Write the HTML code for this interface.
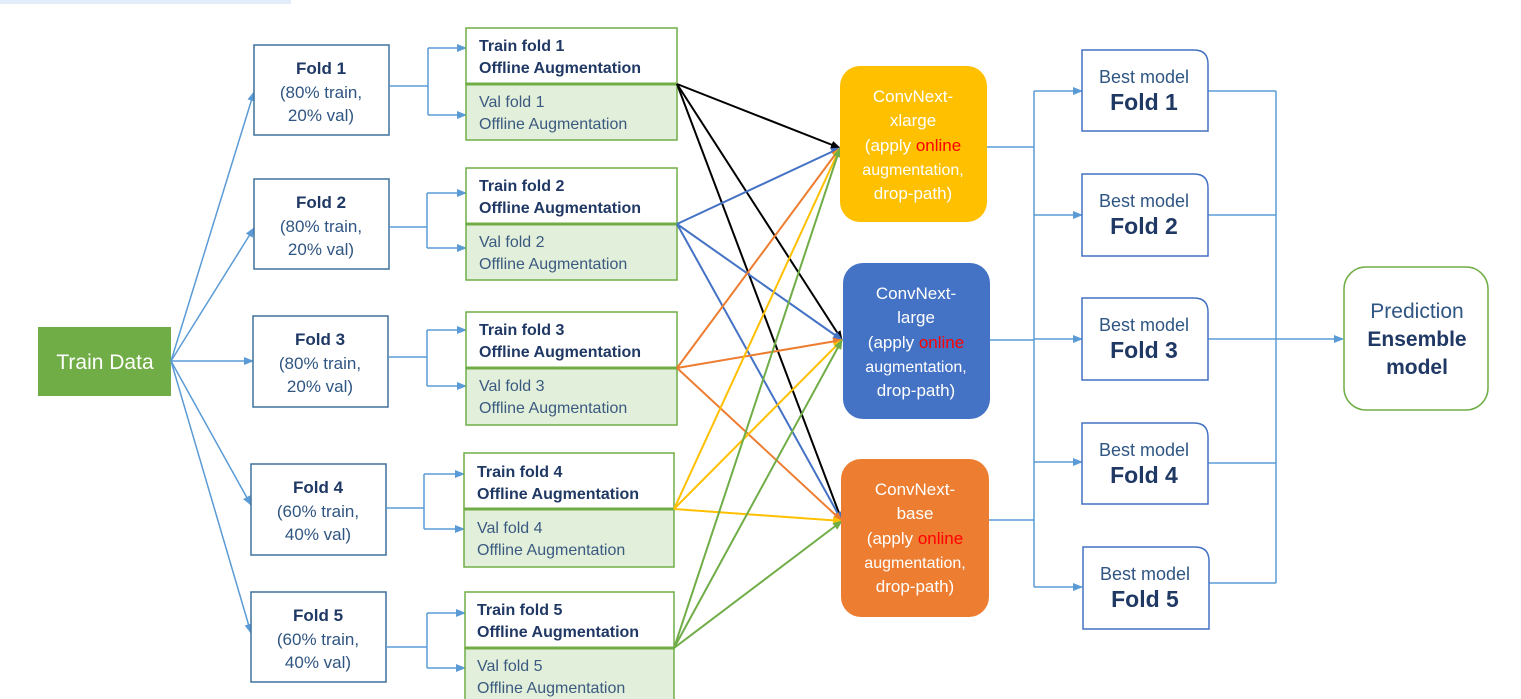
<!DOCTYPE html>
<html><head><meta charset="utf-8"><style>
html,body{margin:0;padding:0;background:#fff;}
svg{display:block;}
text{font-family:"Liberation Sans Narrow","Liberation Sans",sans-serif;}
</style></head><body>
<svg width="1521" height="699" viewBox="0 0 1521 699" xmlns="http://www.w3.org/2000/svg">
<defs>
<marker id="ab" markerWidth="10" markerHeight="10" refX="9" refY="5" orient="auto" markerUnits="userSpaceOnUse"><path d="M0,1 L10,5 L0,9 z" fill="#5b9bd5"/></marker>
<marker id="ak" markerWidth="10" markerHeight="10" refX="9" refY="5" orient="auto" markerUnits="userSpaceOnUse"><path d="M0,1 L10,5 L0,9 z" fill="#000"/></marker>
<marker id="a2" markerWidth="10" markerHeight="10" refX="9" refY="5" orient="auto" markerUnits="userSpaceOnUse"><path d="M0,1 L10,5 L0,9 z" fill="#4472c4"/></marker>
<marker id="a3" markerWidth="10" markerHeight="10" refX="9" refY="5" orient="auto" markerUnits="userSpaceOnUse"><path d="M0,1 L10,5 L0,9 z" fill="#ed7d31"/></marker>
<marker id="a4" markerWidth="10" markerHeight="10" refX="9" refY="5" orient="auto" markerUnits="userSpaceOnUse"><path d="M0,1 L10,5 L0,9 z" fill="#ffc000"/></marker>
<marker id="a5" markerWidth="10" markerHeight="10" refX="9" refY="5" orient="auto" markerUnits="userSpaceOnUse"><path d="M0,1 L10,5 L0,9 z" fill="#70ad47"/></marker>
</defs>
<rect x="0" y="0" width="291" height="4" fill="#e3edf9"/>

<!-- Train data -->
<rect x="38" y="327" width="133" height="69" fill="#70ad47"/>
<text x="105" y="369" fill="#fff" font-size="21" text-anchor="middle">Train Data</text>

<g stroke="#5b9bd5" stroke-width="1.5" fill="none" marker-end="url(#ab)">
<line x1="171" y1="361" x2="254" y2="92"/>
<line x1="171" y1="361" x2="254" y2="228"/>
<line x1="171" y1="361" x2="253" y2="361"/>
<line x1="171" y1="361" x2="251" y2="505"/>
<line x1="171" y1="361" x2="251" y2="633"/>
</g>

<!-- Fold boxes -->
<g stroke="#41719c" stroke-width="1.5" fill="#fff">
<rect x="254" y="45" width="135" height="90"/>
<rect x="254" y="179" width="135" height="90"/>
<rect x="253" y="316" width="135" height="91"/>
<rect x="251" y="464" width="135" height="91"/>
<rect x="251" y="592" width="135" height="90"/>
</g>
<g text-anchor="middle" font-size="17">
<text x="321" y="74" fill="#1f3864" font-weight="bold">Fold 1</text><text x="321" y="98" fill="#2f5582">(80% train,</text><text x="321" y="121" fill="#2f5582">20% val)</text>
<text x="321" y="208" fill="#1f3864" font-weight="bold">Fold 2</text><text x="321" y="232" fill="#2f5582">(80% train,</text><text x="321" y="255" fill="#2f5582">20% val)</text>
<text x="320" y="345" fill="#1f3864" font-weight="bold">Fold 3</text><text x="320" y="369" fill="#2f5582">(80% train,</text><text x="320" y="392" fill="#2f5582">20% val)</text>
<text x="318" y="493" fill="#1f3864" font-weight="bold">Fold 4</text><text x="318" y="517" fill="#2f5582">(60% train,</text><text x="318" y="540" fill="#2f5582">40% val)</text>
<text x="318" y="621" fill="#1f3864" font-weight="bold">Fold 5</text><text x="318" y="645" fill="#2f5582">(60% train,</text><text x="318" y="668" fill="#2f5582">40% val)</text>
</g>

<!-- fold splitters -->
<g stroke="#5b9bd5" stroke-width="1.5" fill="none">
<path d="M389,86 H428 M428,48 V115"/>
<path d="M389,227 H427 M427,193 V248"/>
<path d="M388,357 H427 M427,330 V386"/>
<path d="M386,508 H424 M424,474 V529"/>
<path d="M386,647 H427 M427,613 V668"/>
</g>
<g stroke="#5b9bd5" stroke-width="1.5" marker-end="url(#ab)">
<line x1="428" y1="48" x2="466" y2="48"/><line x1="428" y1="115" x2="466" y2="115"/>
<line x1="427" y1="193" x2="466" y2="193"/><line x1="427" y1="248" x2="466" y2="248"/>
<line x1="427" y1="330" x2="466" y2="330"/><line x1="427" y1="386" x2="466" y2="386"/>
<line x1="424" y1="474" x2="464" y2="474"/><line x1="424" y1="529" x2="464" y2="529"/>
<line x1="427" y1="613" x2="465" y2="613"/><line x1="427" y1="668" x2="465" y2="668"/>
</g>

<!-- train/val boxes -->
<g stroke="#70ad47" stroke-width="1.5">
<rect x="466" y="28" width="211" height="56" fill="#fff"/><rect x="466" y="84" width="211" height="56" fill="#e2efda"/>
<rect x="466" y="168" width="211" height="56" fill="#fff"/><rect x="466" y="224" width="211" height="56" fill="#e2efda"/>
<rect x="466" y="312" width="211" height="56" fill="#fff"/><rect x="466" y="368" width="211" height="57" fill="#e2efda"/>
<rect x="464" y="453" width="210" height="56" fill="#fff"/><rect x="464" y="509" width="210" height="58" fill="#e2efda"/>
<rect x="465" y="592" width="209" height="56" fill="#fff"/><rect x="465" y="648" width="209" height="60" fill="#e2efda"/>
</g>
<g stroke="#70ad47" stroke-width="3">
<line x1="466" y1="84" x2="677" y2="84"/><line x1="466" y1="224" x2="677" y2="224"/>
<line x1="466" y1="368" x2="677" y2="368"/><line x1="464" y1="509" x2="674" y2="509"/>
<line x1="465" y1="648" x2="674" y2="648"/>
</g>
<g font-size="16">
<text x="479" y="51" fill="#203864" font-weight="bold">Train fold 1</text><text x="479" y="73" fill="#203864" font-weight="bold">Offline Augmentation</text>
<text x="479" y="107" fill="#3b5a80">Val fold 1</text><text x="479" y="129" fill="#3b5a80">Offline Augmentation</text>
<text x="479" y="191" fill="#203864" font-weight="bold">Train fold 2</text><text x="479" y="213" fill="#203864" font-weight="bold">Offline Augmentation</text>
<text x="479" y="247" fill="#3b5a80">Val fold 2</text><text x="479" y="269" fill="#3b5a80">Offline Augmentation</text>
<text x="479" y="335" fill="#203864" font-weight="bold">Train fold 3</text><text x="479" y="357" fill="#203864" font-weight="bold">Offline Augmentation</text>
<text x="479" y="391" fill="#3b5a80">Val fold 3</text><text x="479" y="413" fill="#3b5a80">Offline Augmentation</text>
<text x="477" y="477" fill="#203864" font-weight="bold">Train fold 4</text><text x="477" y="499" fill="#203864" font-weight="bold">Offline Augmentation</text>
<text x="477" y="533" fill="#3b5a80">Val fold 4</text><text x="477" y="555" fill="#3b5a80">Offline Augmentation</text>
<text x="477" y="615" fill="#203864" font-weight="bold">Train fold 5</text><text x="477" y="637" fill="#203864" font-weight="bold">Offline Augmentation</text>
<text x="477" y="671" fill="#3b5a80">Val fold 5</text><text x="477" y="693" fill="#3b5a80">Offline Augmentation</text>
</g>

<!-- colored connectors -->
<g stroke-width="2" fill="none">
<g stroke="#000" marker-end="url(#ak)"><line x1="677" y1="84" x2="840" y2="148"/><line x1="677" y1="84" x2="842" y2="340"/><line x1="677" y1="84" x2="842" y2="521"/></g>
<g stroke="#4472c4" marker-end="url(#a2)"><line x1="677" y1="224" x2="840" y2="148"/><line x1="677" y1="224" x2="842" y2="340"/><line x1="677" y1="224" x2="842" y2="521"/></g>
<g stroke="#ed7d31" marker-end="url(#a3)"><line x1="677" y1="368" x2="840" y2="148"/><line x1="677" y1="368" x2="842" y2="340"/><line x1="677" y1="368" x2="842" y2="521"/></g>
<g stroke="#ffc000" marker-end="url(#a4)"><line x1="674" y1="509" x2="840" y2="148"/><line x1="674" y1="509" x2="842" y2="340"/><line x1="674" y1="509" x2="842" y2="521"/></g>
<g stroke="#70ad47" marker-end="url(#a5)"><line x1="674" y1="648" x2="840" y2="148"/><line x1="674" y1="648" x2="842" y2="340"/><line x1="674" y1="648" x2="842" y2="521"/></g>
</g>

<!-- models -->
<rect x="840" y="66" width="147" height="156" rx="20" fill="#ffc000"/>
<rect x="843" y="263" width="147" height="156" rx="20" fill="#4472c4"/>
<rect x="841" y="459" width="148" height="158" rx="20" fill="#ed7d31"/>
<g text-anchor="middle" fill="#fff" font-size="17">
<text x="913" y="102">ConvNext-</text><text x="913" y="126">xlarge</text>
<text x="913" y="151">(apply <tspan fill="#ff0000">online</tspan></text>
<text x="913" y="175" font-size="16">augmentation,</text><text x="913" y="199">drop-path)</text>
<text x="916" y="299">ConvNext-</text><text x="916" y="323">large</text>
<text x="916" y="348">(apply <tspan fill="#ff0000">online</tspan></text>
<text x="916" y="372" font-size="16">augmentation,</text><text x="916" y="396">drop-path)</text>
<text x="915" y="495">ConvNext-</text><text x="915" y="519">base</text>
<text x="915" y="544">(apply <tspan fill="#ff0000">online</tspan></text>
<text x="915" y="568" font-size="16">augmentation,</text><text x="915" y="592">drop-path)</text>
</g>

<!-- model outputs and bus -->
<g stroke="#5b9bd5" stroke-width="1.5" fill="none">
<path d="M987,147 H1034 M990,340 H1034 M989,520 H1034 M1034,91 V587"/>
<path d="M1208,91 H1276 M1208,215 H1276 M1208,339 H1276 M1208,463 H1276 M1208,583 H1276 M1276,91 V583"/>
</g>
<g stroke="#5b9bd5" stroke-width="1.5" marker-end="url(#ab)">
<line x1="1034" y1="91" x2="1082" y2="91"/><line x1="1034" y1="215" x2="1082" y2="215"/>
<line x1="1034" y1="339" x2="1082" y2="339"/><line x1="1034" y1="462" x2="1082" y2="462"/>
<line x1="1034" y1="587" x2="1082" y2="587"/><line x1="1276" y1="339" x2="1343" y2="339"/>
</g>

<!-- best models -->
<g stroke="#4472c4" stroke-width="1.5" fill="#fff">
<path d="M1082,50 H1194 Q1208,50 1208,64 V131 H1082 Z"/>
<path d="M1082,174 H1194 Q1208,174 1208,188 V256 H1082 Z"/>
<path d="M1082,298 H1194 Q1208,298 1208,312 V380 H1082 Z"/>
<path d="M1082,423 H1194 Q1208,423 1208,437 V504 H1082 Z"/>
<path d="M1083,547 H1195 Q1209,547 1209,561 V629 H1083 Z"/>
</g>
<g text-anchor="middle">
<text x="1144" y="83" font-size="18" fill="#2f5582">Best model</text><text x="1144" y="110" font-size="23" font-weight="bold" fill="#1f3864">Fold 1</text>
<text x="1144" y="207" font-size="18" fill="#2f5582">Best model</text><text x="1144" y="234" font-size="23" font-weight="bold" fill="#1f3864">Fold 2</text>
<text x="1144" y="331" font-size="18" fill="#2f5582">Best model</text><text x="1144" y="358" font-size="23" font-weight="bold" fill="#1f3864">Fold 3</text>
<text x="1144" y="456" font-size="18" fill="#2f5582">Best model</text><text x="1144" y="483" font-size="23" font-weight="bold" fill="#1f3864">Fold 4</text>
<text x="1145" y="580" font-size="18" fill="#2f5582">Best model</text><text x="1145" y="607" font-size="23" font-weight="bold" fill="#1f3864">Fold 5</text>
</g>

<!-- prediction -->
<rect x="1344" y="267" width="144" height="143" rx="22" fill="#fff" stroke="#70ad47" stroke-width="1.5"/>
<g text-anchor="middle" font-size="21">
<text x="1417" y="318" fill="#2f5582">Prediction</text>
<text x="1417" y="346" fill="#1f3864" font-weight="bold">Ensemble</text>
<text x="1417" y="374" fill="#1f3864" font-weight="bold">model</text>
</g>
</svg>
</body></html>
